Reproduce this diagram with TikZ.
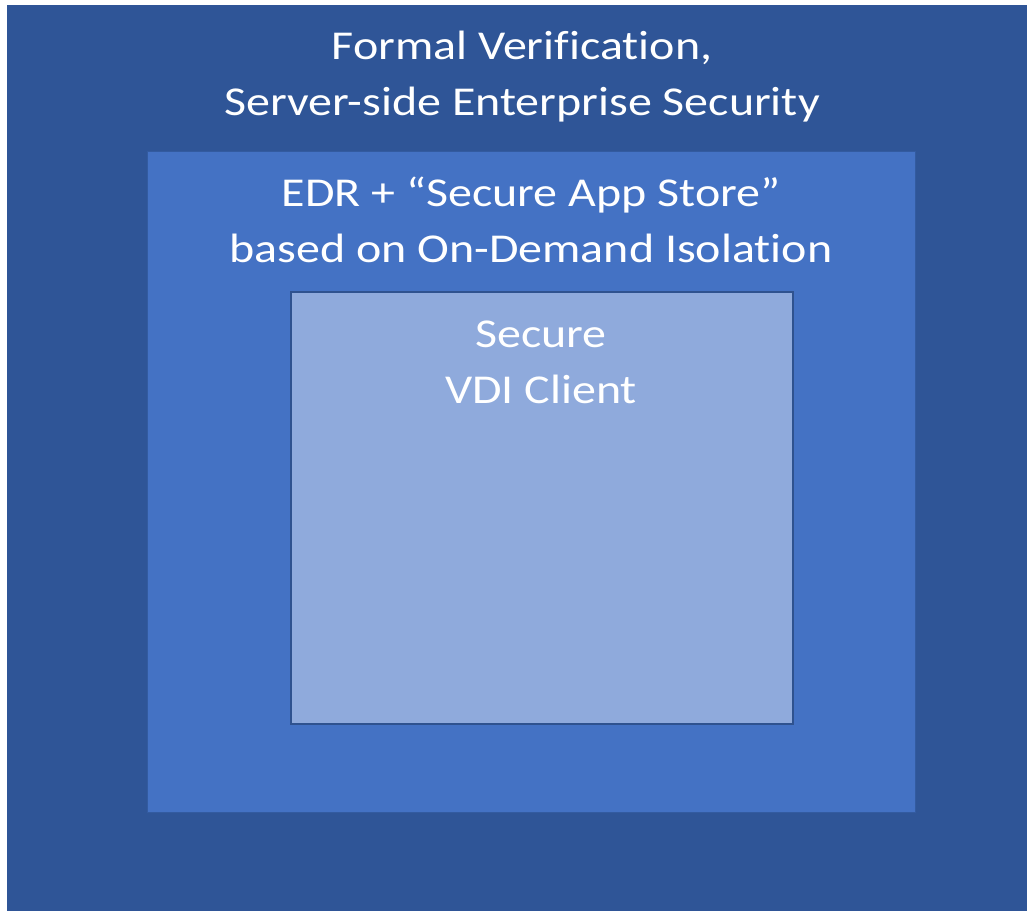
\documentclass[tikz,border=0pt]{standalone}
\usepackage{fontspec}
\setmainfont[Ligatures=NoCommon,FakeStretch=1.17]{Carlito}
\usepackage{xcolor}
\usepackage{tikz}
\usetikzlibrary{positioning}
\definecolor{OuterBlue}{RGB}{47,85,151}
\definecolor{MidBlue}{RGB}{68,114,196}
\definecolor{InnerBlue}{RGB}{143,170,220}
\definecolor{EdgeBlue}{RGB}{47,82,143}

\begin{document}
\begin{tikzpicture}[x=1pt,y=-1pt,
  box/.style={anchor=north west,inner sep=0pt,outer sep=0pt},
  lbl/.style={text=white,align=center,inner sep=0pt,font=\fontsize{41}{56}\selectfont}]
\useasboundingbox(0,0)rectangle(1027,911);
\fill[white](0,0)rectangle(1027,911);
% nested boxes, outside in
\node[box,fill=OuterBlue,minimum width=1020,minimum height=906](outer)at(7,5){};
\node[box,fill=MidBlue,draw=OuterBlue!80!MidBlue,line width=0.8pt,minimum width=768,minimum height=661](mid)at(147,151){};
\node[box,fill=InnerBlue,draw=EdgeBlue,line width=2.4pt,minimum width=502,minimum height=432](inner)at(291,292){};
% labels
\node[lbl](outerlbl)at(522,77){Formal Verification,\\Server-side Enterprise Security};
\node[lbl](midlbl)at(531,220){EDR + “Secure App Store”\\based on On-Demand Isolation};
\node[lbl](innerlbl)at(541,362){Secure\\VDI Client};
\end{tikzpicture}
\end{document}
